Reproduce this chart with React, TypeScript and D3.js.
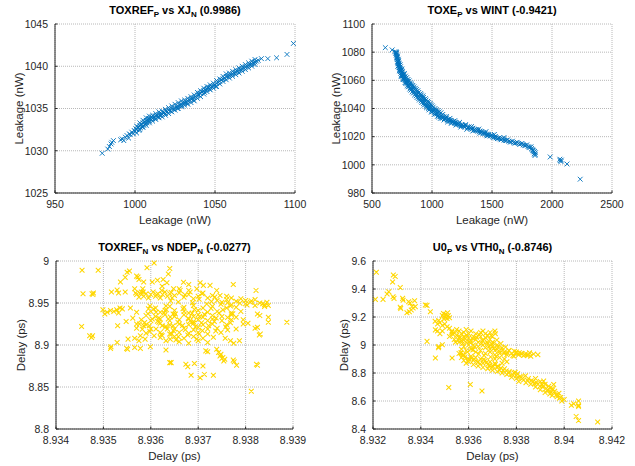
import React from 'react';
import * as d3 from 'd3';

const FONT = '"Liberation Sans", Arial, Helvetica, sans-serif';
const BLUE = '#0072BD';
const YELLOW = '#FFD700';

// ---- Panel 1: TOXREF_P vs XJ_N ----
const p1XTicks = [950, 1000, 1050, 1100];
const p1YTicks = [1025, 1030, 1035, 1040, 1045];
const p1Data: [number, number][] = [
  [979.5, 1029.7], [983, 1030.2], [984, 1030.5], [985, 1030.8], [985.5, 1031.0], [986.5, 1031.2],
  [991, 1031.3], [992, 1031.4], [993, 1031.2], [994, 1031.6], [995, 1031.8], [996, 1031.5], [996.5, 1032.0],
  [997, 1031.9], [998, 1032.2], [999, 1032.0], [999.5, 1032.4],
  [1000, 1032.3], [1000.5, 1032.6], [1001, 1032.5], [1002, 1032.8], [1002.5, 1032.4], [1003, 1033.0],
  [1003.5, 1032.7], [1004, 1033.1], [1004.5, 1032.8], [1005, 1033.3], [1005.5, 1033.0], [1006, 1033.4],
  [1006.5, 1033.2], [1007, 1033.6], [1007.5, 1033.3], [1008, 1033.6], [1008.5, 1033.8], [1009, 1033.5],
  [1009.5, 1033.8], [1010, 1033.7], [1010.5, 1034.0], [1011, 1033.8], [1012, 1034.0], [1012.5, 1033.8],
  [1013, 1034.1], [1014, 1034.2], [1014.5, 1034.0], [1015, 1034.3], [1016, 1034.2], [1016.5, 1034.4],
  [1017, 1034.3], [1018, 1034.5], [1019, 1034.4], [1019.5, 1034.7], [1020, 1034.6], [1021, 1034.8],
  [1022, 1034.7], [1023, 1035.0], [1024, 1034.9], [1025, 1035.1], [1026, 1035.2], [1026.5, 1035.0],
  [1027, 1035.3], [1028, 1035.4], [1029, 1035.5], [1029.5, 1035.3], [1030, 1035.6], [1031, 1035.7],
  [1032, 1035.8], [1032.5, 1035.6], [1033, 1035.9], [1034, 1036.0], [1035, 1036.1], [1036, 1036.2],
  [1036.5, 1036.0], [1037, 1036.3], [1038, 1036.4], [1039, 1036.6], [1040, 1036.6], [1040.5, 1036.8],
  [1041, 1036.8], [1042, 1037.0], [1043, 1037.1], [1043.5, 1036.9], [1044, 1037.2], [1045, 1037.3],
  [1046, 1037.5], [1046.5, 1037.3], [1047, 1037.5], [1048, 1037.6], [1049, 1037.7], [1050, 1037.8],
  [1050.5, 1037.6], [1051, 1038.0], [1052, 1038.1], [1053, 1038.2], [1054, 1038.4], [1055, 1038.5],
  [1056, 1038.6], [1057, 1038.8], [1058, 1038.8], [1059, 1038.9], [1060, 1039.0], [1061, 1039.1],
  [1062, 1039.2], [1063, 1039.3], [1064, 1039.4], [1065, 1039.5], [1066, 1039.6], [1067, 1039.7],
  [1068, 1039.8], [1069, 1039.9], [1070, 1040.0], [1071, 1040.1], [1072, 1040.2], [1073, 1040.3],
  [1074, 1040.4], [1075, 1040.5], [1076, 1040.6], [1077, 1040.7],
  [1001, 1032.9], [1003, 1033.3], [1005, 1033.6], [1007, 1033.9], [1009, 1034.1], [1011, 1034.2], [1013, 1034.4],
  [1015, 1034.6], [1017, 1034.7], [1019, 1034.9], [1021, 1035.1], [1023, 1035.3], [1025, 1035.5], [1027, 1035.7],
  [1029, 1035.9], [1031, 1036.0], [1033, 1036.2], [1035, 1036.4], [1037, 1036.6], [1039, 1036.9], [1041, 1037.1],
  [1043, 1037.4], [1045, 1037.6], [1047, 1037.8], [1049, 1038.0], [1051, 1038.3], [1053, 1038.5], [1055, 1038.8],
  [1057, 1039.1], [1059, 1039.2], [1061, 1039.4], [1063, 1039.6], [1065, 1039.8], [1067, 1040.0], [1069, 1040.2],
  [1071, 1040.4], [1073, 1040.6], [1075, 1040.8],
  [1001, 1032.1], [1003, 1032.5], [1005, 1032.8], [1007, 1033.0], [1009, 1033.3], [1011, 1033.5], [1013, 1033.7],
  [1015, 1033.9], [1017, 1034.0], [1019, 1034.2], [1021, 1034.4], [1023, 1034.6], [1025, 1034.8], [1027, 1035.0],
  [1029, 1035.2], [1031, 1035.4], [1033, 1035.5], [1035, 1035.7], [1037, 1035.9], [1039, 1036.2], [1041, 1036.4],
  [1043, 1036.7], [1045, 1037.0], [1047, 1037.2], [1049, 1037.4], [1051, 1037.6], [1053, 1037.9], [1055, 1038.2],
  [1057, 1038.4], [1059, 1038.6], [1061, 1038.8], [1063, 1039.0], [1065, 1039.2], [1067, 1039.4], [1069, 1039.6],
  [1071, 1039.8], [1073, 1040.0], [1075, 1040.2],
  [1079, 1040.9], [1083, 1040.9], [1088.5, 1041.0], [1095, 1041.4], [1099, 1042.7],
];

// ---- Panel 2: TOXE_P vs WINT ----
const p2XTicks = [500, 1000, 1500, 2000, 2500];
const p2YTicks = [980, 1000, 1020, 1040, 1060, 1080, 1100];
const p2Data: [number, number][] = [
  [611, 1083.2], [668, 1081.6], [690, 1080.3], [697, 1079.2], [702, 1078.0], [705, 1076.4], [708, 1077.6],
  [710, 1074.8], [712, 1076.2], [714, 1073.2], [716, 1071.8], [718, 1074.0], [720, 1070.4], [722, 1072.4],
  [725, 1069.0], [727, 1070.8], [730, 1067.6], [732, 1069.4], [735, 1066.2], [738, 1068.0], [740, 1065.0],
  [743, 1066.8], [746, 1064.0], [750, 1065.4], [752, 1062.8], [756, 1064.4], [760, 1062.0], [764, 1063.4],
  [768, 1060.6], [772, 1062.2], [776, 1059.8], [780, 1061.2], [784, 1058.8], [788, 1060.2], [792, 1057.8],
  [796, 1059.2], [800, 1056.8], [805, 1058.2], [810, 1055.8], [815, 1057.2], [820, 1054.8], [825, 1056.2],
  [830, 1053.8], [836, 1055.2], [842, 1052.8], [848, 1054.2], [854, 1051.6], [860, 1053.0], [866, 1050.6],
  [872, 1052.0], [878, 1049.6], [884, 1051.0], [890, 1048.4], [896, 1049.8], [902, 1047.2], [908, 1048.6],
  [914, 1046.2], [920, 1047.6], [926, 1045.0], [932, 1046.4], [938, 1044.0], [944, 1045.2], [950, 1042.8],
  [956, 1044.0], [962, 1041.8], [968, 1043.0], [974, 1040.8], [980, 1041.8], [986, 1039.8], [992, 1040.8],
  [998, 1038.8], [1004, 1039.8], [1010, 1038.0], [1016, 1038.8], [1022, 1037.0], [1030, 1038.0], [1038, 1036.0],
  [1046, 1037.0], [1054, 1035.0], [1062, 1036.0], [1070, 1034.2], [1080, 1035.2], [1090, 1033.4], [1100, 1034.2],
  [1110, 1032.6], [1120, 1033.4], [1130, 1031.8], [1140, 1032.4], [1150, 1031.0], [1160, 1031.6], [1170, 1030.2],
  [1180, 1030.8], [1190, 1029.6], [1200, 1030.0], [1210, 1028.8], [1220, 1029.4], [1235, 1028.2], [1250, 1028.6],
  [1265, 1027.4], [1280, 1027.8], [1295, 1026.6], [1310, 1027.0], [1325, 1025.8], [1340, 1026.0], [1355, 1025.0],
  [1370, 1025.0], [1385, 1024.0], [1400, 1024.0], [1415, 1023.0], [1430, 1022.8], [1445, 1022.0], [1460, 1021.8],
  [1475, 1021.0], [1490, 1020.8], [1505, 1020.0], [1520, 1019.8], [1535, 1019.2], [1550, 1018.8], [1565, 1018.4],
  [1580, 1018.2], [1600, 1017.6], [1620, 1017.2], [1640, 1016.8], [1660, 1016.2], [1680, 1015.8], [1700, 1015.6],
  [1720, 1015.2], [1740, 1014.8], [1760, 1014.2], [1780, 1013.6], [1800, 1013.0], [1815, 1012.2], [1830, 1011.6],
  [1840, 1010.4], [1848, 1009.2], [1852, 1007.8], [1858, 1006.6], [1862, 1008.6],
  [715, 1070.0], [728, 1066.8], [742, 1063.2], [758, 1061.0], [775, 1058.4], [795, 1056.0], [815, 1053.8],
  [835, 1051.8], [855, 1049.6], [875, 1047.8], [895, 1046.0], [915, 1044.2], [935, 1042.4], [955, 1040.6],
  [975, 1039.0], [995, 1037.4], [1020, 1035.8], [1045, 1034.4], [1070, 1033.0], [1100, 1031.8], [1130, 1030.4],
  [1160, 1029.4], [1200, 1028.2], [1240, 1026.8], [1290, 1025.2], [1340, 1024.0], [1400, 1022.4], [1460, 1020.6],
  [705, 1079.0], [720, 1075.0], [735, 1071.0], [750, 1068.0], [770, 1064.8], [790, 1062.0], [810, 1059.6],
  [830, 1057.4], [850, 1055.4], [870, 1053.4], [890, 1051.4], [910, 1049.6], [930, 1047.8], [950, 1046.0],
  [970, 1044.2], [990, 1042.6], [1010, 1041.0], [1035, 1039.2], [1060, 1037.6], [1090, 1035.8], [1120, 1034.4],
  [1150, 1033.0], [1190, 1031.4], [1230, 1030.2], [1280, 1028.6], [1330, 1027.2], [1390, 1025.4], [1450, 1023.6],
  [1520, 1021.6], [1600, 1019.4],
  [1105, 1033.0], [1125, 1032.0], [1145, 1031.6], [1165, 1030.6], [1185, 1030.0], [1205, 1029.2], [1225, 1028.8],
  [1245, 1027.8], [1260, 1027.8], [1275, 1026.8], [1300, 1026.2], [1320, 1026.4], [1335, 1025.4], [1350, 1024.6],
  [1365, 1024.4], [1380, 1024.6], [1395, 1023.4], [1410, 1023.6], [1425, 1022.2], [1440, 1022.6], [1455, 1021.2],
  [1470, 1021.6], [1485, 1020.4], [1500, 1021.0], [1515, 1019.4], [1530, 1020.0], [1545, 1018.6], [1560, 1019.2],
  [1575, 1017.8], [1590, 1018.6], [1610, 1017.2], [1630, 1017.8], [1650, 1016.4], [1670, 1016.8], [1690, 1015.4],
  [1710, 1016.0], [1730, 1014.6], [1750, 1015.2], [1770, 1013.8], [1790, 1014.2], [1810, 1012.6], [1825, 1012.8],
  [1835, 1011.0], [1845, 1010.0], [1855, 1009.4], [1860, 1007.4],
  [700, 1080.2], [706, 1079.8], [709, 1075.6], [713, 1077.2], [717, 1073.0], [721, 1073.6], [724, 1071.6],
  [729, 1069.2], [734, 1068.4], [737, 1069.6], [741, 1067.0], [745, 1066.6], [749, 1063.0], [754, 1066.2],
  [762, 1060.6], [766, 1064.2], [778, 1063.0], [782, 1057.8], [800, 1060.6], [804, 1055.4], [820, 1058.2],
  [824, 1053.0], [840, 1056.4], [846, 1051.0], [862, 1054.4], [868, 1049.0], [882, 1052.6], [888, 1047.2],
  [905, 1050.6], [910, 1045.4], [925, 1049.0], [930, 1043.6], [945, 1047.0], [952, 1041.8], [965, 1045.2],
  [972, 1040.0], [985, 1043.6], [1000, 1042.0], [1000, 1037.8], [1025, 1040.0], [1030, 1036.4], [1050, 1038.6],
  [1055, 1034.0], [1075, 1037.0], [1085, 1033.0],
  [1985, 1005.6], [2065, 1004.0], [2068, 1003.0], [2075, 1002.3], [2078, 1003.4], [2125, 1000.6], [2235, 989.8],
];

// ---- Panel 3: TOXREF_N vs NDEP_N ----
const p3XTicks = [8.934, 8.935, 8.936, 8.937, 8.938, 8.939];
const p3XLabels = ['8.934', '8.935', '8.936', '8.937', '8.938', '8.939'];
const p3YTicks = [8.8, 8.85, 8.9, 8.95, 9];
const p3YLabels = ['8.8', '8.85', '8.9', '8.95', '9'];
const p3Data: [number, number][] = [
  [8.93455, 8.989], [8.93489, 8.989], [8.93457, 8.961], [8.93476, 8.961], [8.93479, 8.962], [8.93478, 8.96],
  [8.93454, 8.922], [8.93471, 8.911], [8.93475, 8.909], [8.93477, 8.911], [8.93499, 8.942],
  [8.93515, 8.896], [8.93516, 8.898], [8.93529, 8.903], [8.93549, 8.896], [8.93551, 8.895],
  [8.93508, 8.939], [8.93515, 8.941], [8.93522, 8.940], [8.93528, 8.942], [8.93535, 8.944], [8.93532, 8.938],
  [8.9354, 8.943], [8.93503, 8.937], [8.9353, 8.923], [8.93548, 8.928], [8.93557, 8.944], [8.93562, 8.932],
  [8.9357, 8.939], [8.93552, 8.907], [8.93566, 8.908], [8.93578, 8.911], [8.93588, 8.907], [8.93578, 8.896],
  [8.93566, 8.897], [8.93599, 8.898], [8.93575, 8.905],
  [8.93517, 8.963], [8.93529, 8.9655], [8.93532, 8.962], [8.93536, 8.975], [8.93546, 8.9805], [8.9355, 8.9865],
  [8.93555, 8.988], [8.9357, 8.982], [8.93573, 8.981], [8.93575, 8.978], [8.93585, 8.975], [8.93546, 8.963],
  [8.93566, 8.967], [8.93568, 8.962], [8.93584, 8.963], [8.93583, 8.967], [8.93592, 8.992], [8.93607, 8.9976],
  [8.93603, 8.975], [8.93614, 8.977], [8.93626, 8.978], [8.93634, 8.974], [8.93624, 8.97], [8.93637, 8.9845],
  [8.9364, 8.991],
  [8.93595, 8.943], [8.93611, 8.939], [8.93603, 8.931], [8.93617, 8.927], [8.93624, 8.923], [8.93635, 8.919],
  [8.93644, 8.913], [8.93641, 8.907], [8.93647, 8.923], [8.93637, 8.931], [8.9363, 8.941], [8.93647, 8.937],
  [8.93611, 8.919], [8.93597, 8.923], [8.93585, 8.923], [8.93576, 8.925], [8.93607, 8.911], [8.93624, 8.911],
  [8.93632, 8.905], [8.93632, 8.894], [8.9364, 8.879],
  [8.93669, 8.9746], [8.9368, 8.972], [8.93704, 8.974], [8.93711, 8.971], [8.93725, 8.971], [8.93774, 8.972],
  [8.93822, 8.965], [8.93648, 8.967], [8.93662, 8.965], [8.93683, 8.963], [8.93739, 8.965], [8.93746, 8.959],
  [8.93848, 8.947], [8.93825, 8.937], [8.9383, 8.935], [8.93848, 8.933], [8.93887, 8.927], [8.93848, 8.927],
  [8.9382, 8.92], [8.93825, 8.921], [8.93829, 8.912], [8.93831, 8.913], [8.93795, 8.93], [8.93805, 8.926],
  [8.9378, 8.919], [8.93795, 8.925], [8.93823, 8.877], [8.93825, 8.876],
  [8.93739, 8.895], [8.93743, 8.891], [8.93746, 8.887], [8.9375, 8.884], [8.93754, 8.881], [8.93752, 8.885],
  [8.93748, 8.889], [8.93756, 8.883],
  [8.93781, 8.876], [8.93774, 8.882], [8.93776, 8.88], [8.93716, 8.893], [8.9372, 8.892], [8.9371, 8.875],
  [8.93713, 8.865], [8.93674, 8.877], [8.93678, 8.874], [8.93692, 8.878], [8.93685, 8.864], [8.93732, 8.864],
  [8.93643, 8.879], [8.93768, 8.905], [8.93775, 8.902], [8.93787, 8.905], [8.93757, 8.908], [8.93812, 8.845],
  [8.93704, 8.861],
  [8.9357, 8.96], [8.93575, 8.957], [8.9358, 8.963], [8.93585, 8.958], [8.9359, 8.961], [8.93595, 8.956],
  [8.936, 8.96], [8.93605, 8.963], [8.9361, 8.958], [8.93615, 8.961], [8.9362, 8.956], [8.93625, 8.96],
  [8.9363, 8.963], [8.93635, 8.958], [8.9364, 8.961], [8.93645, 8.956], [8.9365, 8.959], [8.9366, 8.962],
  [8.9367, 8.957], [8.9368, 8.96], [8.9369, 8.955], [8.937, 8.958], [8.9371, 8.962], [8.9372, 8.956],
  [8.9373, 8.959], [8.9374, 8.953], [8.9366, 8.967], [8.9368, 8.965],
  [8.9375, 8.951], [8.9376, 8.954], [8.9377, 8.948], [8.9378, 8.952], [8.9379, 8.955], [8.938, 8.949],
  [8.938, 8.953], [8.9381, 8.951], [8.9382, 8.947], [8.9382, 8.954], [8.9383, 8.95], [8.9384, 8.948],
  [8.9384, 8.946], [8.93845, 8.951], [8.9377, 8.956], [8.9378, 8.945], [8.9376, 8.958],
  [8.9361, 8.944], [8.9364, 8.946], [8.9367, 8.945], [8.9369, 8.947], [8.9371, 8.944], [8.9373, 8.946], [8.9376, 8.944],
  [8.936, 8.94], [8.9362, 8.939], [8.9365, 8.941], [8.9367, 8.94], [8.9368, 8.938], [8.937, 8.941], [8.9372, 8.939],
  [8.9374, 8.94], [8.9377, 8.938], [8.9379, 8.94],
  [8.9359, 8.935], [8.9361, 8.934], [8.9363, 8.936], [8.9365, 8.934], [8.9367, 8.936], [8.9369, 8.934],
  [8.937, 8.936], [8.9371, 8.933], [8.9373, 8.935], [8.9375, 8.934], [8.9377, 8.936], [8.9378, 8.933],
  [8.9358, 8.93], [8.936, 8.929], [8.9362, 8.931], [8.9364, 8.929], [8.9366, 8.93], [8.9368, 8.931],
  [8.9369, 8.928], [8.937, 8.93], [8.9372, 8.929], [8.9373, 8.931], [8.9375, 8.929], [8.9377, 8.93],
  [8.9357, 8.925], [8.9359, 8.924], [8.9362, 8.926], [8.9364, 8.924], [8.9366, 8.925], [8.9368, 8.924],
  [8.9369, 8.926], [8.9371, 8.924], [8.9373, 8.925], [8.9376, 8.924],
  [8.9357, 8.92], [8.936, 8.919], [8.9363, 8.921], [8.9365, 8.919], [8.9367, 8.92], [8.9369, 8.918],
  [8.937, 8.921], [8.9372, 8.919], [8.9374, 8.92],
  [8.9359, 8.914], [8.9362, 8.915], [8.9364, 8.913], [8.9366, 8.915], [8.9368, 8.914], [8.937, 8.915], [8.9372, 8.913],
  [8.9362, 8.909], [8.9365, 8.91], [8.9367, 8.908], [8.9369, 8.91], [8.9371, 8.908],
  [8.9366, 8.904], [8.9368, 8.902], [8.937, 8.905], [8.9372, 8.903],
  [8.93606, 8.9428], [8.93633, 8.9419], [8.93668, 8.9431], [8.93692, 8.9423], [8.93727, 8.9436], [8.93752, 8.9418],
  [8.93594, 8.9372], [8.93628, 8.9381], [8.93652, 8.9368], [8.93687, 8.9379], [8.93713, 8.9366], [8.93744, 8.9382],
  [8.93773, 8.9371], [8.93617, 8.9322], [8.93641, 8.9333], [8.93679, 8.9318], [8.93703, 8.9339], [8.93738, 8.9321],
  [8.93762, 8.9328], [8.93587, 8.9268], [8.93614, 8.9283], [8.93657, 8.9272], [8.93683, 8.9287], [8.93707, 8.9264],
  [8.93734, 8.9279], [8.93768, 8.9266], [8.93632, 8.9221], [8.93667, 8.9232], [8.93694, 8.9216], [8.93722, 8.9229],
  [8.93758, 8.9214], [8.93648, 8.9168], [8.93673, 8.9182], [8.93709, 8.9171], [8.93737, 8.9166], [8.93678, 8.9118],
  [8.93702, 8.9131], [8.93653, 8.9061], [8.93697, 8.9072],
  [8.93578, 8.9612], [8.93612, 8.9597], [8.93643, 8.9625], [8.93672, 8.9598], [8.93708, 8.9611], [8.93735, 8.9572],
  [8.93623, 8.9648], [8.93697, 8.9668],
  [8.93762, 8.9502], [8.93788, 8.9498], [8.93812, 8.9525], [8.93836, 8.9492], [8.93768, 8.9465], [8.93803, 8.9477],
  [8.93632, 8.9465], [8.93658, 8.9512], [8.93688, 8.9502], [8.93718, 8.9488], [8.93748, 8.9485], [8.93598, 8.9465],
  [8.93642, 8.9525], [8.93702, 8.9545], [8.93728, 8.9518], [8.93582, 8.9188], [8.93598, 8.9161], [8.93622, 8.9121],
  [8.93658, 8.9098], [8.93732, 8.9092], [8.93748, 8.9148], [8.93762, 8.9178],
];

// ---- Panel 4: U0_P vs VTH0_N ----
const p4XTicks = [8.932, 8.934, 8.936, 8.938, 8.94, 8.942];
const p4XLabels = ['8.932', '8.934', '8.936', '8.938', '8.94', '8.942'];
const p4YTicks = [8.4, 8.6, 8.8, 9, 9.2, 9.4, 9.6];
const p4YLabels = ['8.4', '8.6', '8.8', '9', '9.2', '9.4', '9.6'];
const p4Data: [number, number][] = [
  [8.93214, 9.52], [8.9321, 9.326], [8.93242, 9.326], [8.93259, 9.364], [8.93266, 9.38], [8.93282, 9.45],
  [8.93285, 9.5], [8.93293, 9.49], [8.93284, 9.345], [8.93288, 9.333], [8.93314, 9.41], [8.93314, 9.27],
  [8.93316, 9.26], [8.93324, 9.333], [8.93326, 9.32], [8.93349, 9.309], [8.93355, 9.3], [8.93363, 9.274],
  [8.93368, 9.265], [8.93377, 9.274], [8.93374, 9.316], [8.93352, 9.238], [8.9336, 9.25], [8.93342, 9.23],
  [8.93419, 9.286], [8.93426, 9.283], [8.93426, 9.026], [8.9344, 9.238], [8.93461, 9.108], [8.93461, 8.907],
  [8.93475, 8.99], [8.9349, 9.002], [8.93474, 8.98], [8.93531, 8.907], [8.93517, 8.697], [8.93607, 8.718],
  [8.93656, 8.671],
  [8.9349, 9.21], [8.93495, 9.225], [8.935, 9.2], [8.93505, 9.22], [8.9351, 9.19], [8.93515, 9.21],
  [8.9352, 9.195], [8.93498, 9.185], [8.93512, 9.23],
  [8.9346, 9.17], [8.9347, 9.15], [8.93475, 9.175], [8.9348, 9.16], [8.9349, 9.14], [8.935, 9.15],
  [8.9351, 9.13], [8.9352, 9.12], [8.9347, 9.1], [8.9348, 9.08], [8.9349, 9.1],
  [8.9352, 9.06], [8.9353, 9.09], [8.9354, 9.04], [8.9355, 9.07], [8.9356, 9.05], [8.9357, 9.08],
  [8.9357, 9.03], [8.9358, 9.06], [8.9359, 9.02], [8.936, 9.05], [8.936, 9.0], [8.9361, 9.03],
  [8.9362, 9.06], [8.9362, 9.0], [8.9363, 9.04], [8.9364, 8.99], [8.9364, 9.02], [8.9365, 9.06],
  [8.9366, 9.0], [8.9366, 9.03], [8.9367, 8.98], [8.9367, 9.08], [8.9368, 9.01], [8.9369, 8.97],
  [8.9369, 9.04], [8.937, 8.99], [8.937, 9.02], [8.9371, 8.96], [8.9372, 9.0], [8.9372, 8.97],
  [8.9373, 8.94], [8.9374, 8.98], [8.9375, 8.95], [8.9376, 8.93], [8.9377, 8.96], [8.9378, 8.94],
  [8.9379, 8.92], [8.938, 8.95], [8.9381, 8.93], [8.9382, 8.94], [8.9383, 8.925], [8.9384, 8.94],
  [8.9385, 8.93], [8.9386, 8.92], [8.9389, 8.93], [8.93712, 9.08], [8.9371, 9.1],
  [8.9356, 8.94], [8.9357, 8.91], [8.9358, 8.89], [8.9358, 8.93], [8.9359, 8.87], [8.936, 8.9],
  [8.936, 8.88], [8.9361, 8.92], [8.9362, 8.86], [8.9362, 8.89], [8.9363, 8.91], [8.9364, 8.85],
  [8.9364, 8.88], [8.9365, 8.9], [8.9366, 8.84], [8.9366, 8.87], [8.9367, 8.89], [8.9368, 8.83],
  [8.9368, 8.86], [8.9369, 8.88], [8.937, 8.82], [8.937, 8.85], [8.9371, 8.87], [8.9372, 8.81],
  [8.9372, 8.84], [8.9373, 8.82], [8.9374, 8.8], [8.9375, 8.83], [8.9376, 8.79], [8.9377, 8.81],
  [8.9378, 8.77], [8.9379, 8.8], [8.938, 8.76], [8.938, 8.78], [8.9381, 8.74], [8.9382, 8.77],
  [8.9383, 8.75], [8.9384, 8.73], [8.9385, 8.76], [8.9386, 8.72], [8.9387, 8.74], [8.9388, 8.7],
  [8.9388, 8.76], [8.9389, 8.72], [8.939, 8.68], [8.939, 8.74], [8.9391, 8.7], [8.9392, 8.66],
  [8.9392, 8.72], [8.9393, 8.68], [8.9394, 8.65], [8.9395, 8.69], [8.9395, 8.64], [8.9396, 8.67],
  [8.9397, 8.63], [8.9398, 8.62], [8.9399, 8.6], [8.94, 8.61],
  [8.9403, 8.57], [8.9404, 8.58], [8.9405, 8.49], [8.9406, 8.6], [8.9406, 8.57], [8.9406, 8.56],
  [8.9406, 8.46], [8.9414, 8.45], [8.93914, 8.742], [8.93935, 8.706], [8.93956, 8.718],
  [8.9353, 9.1], [8.9355, 9.11], [8.9356, 9.1], [8.9358, 9.09], [8.9359, 9.11], [8.936, 9.08],
  [8.9361, 9.1], [8.9363, 9.08], [8.9365, 9.09], [8.9366, 9.1], [8.9368, 9.07], [8.9369, 9.09],
  [8.937, 9.06], [8.9356, 9.02], [8.9358, 8.99], [8.9357, 8.97], [8.9359, 8.96], [8.9361, 8.97],
  [8.9363, 8.95], [8.9365, 8.96], [8.9367, 8.94], [8.9369, 8.95], [8.9371, 8.93], [8.9373, 8.91],
  [8.9375, 8.9], [8.9371, 8.9], [8.9374, 8.87], [8.9376, 8.88],
  [8.93535, 9.075], [8.93565, 9.055], [8.93592, 9.072], [8.93618, 9.045], [8.93645, 9.072], [8.93672, 9.05],
  [8.93695, 9.065], [8.93718, 9.035], [8.93735, 9.01], [8.93755, 8.985], [8.93768, 8.96], [8.93792, 8.955],
  [8.93812, 8.945], [8.93835, 8.93], [8.93855, 8.945], [8.93872, 8.935],
  [8.93545, 9.02], [8.93575, 9.01], [8.93602, 9.025], [8.93625, 8.985], [8.93655, 9.01], [8.93685, 8.99],
  [8.93705, 8.975], [8.93728, 8.955], [8.93748, 8.94], [8.93785, 8.925],
  [8.93568, 8.945], [8.93585, 8.915], [8.93612, 8.905], [8.93638, 8.875], [8.93662, 8.895], [8.93688, 8.855],
  [8.93712, 8.86], [8.93735, 8.835], [8.93758, 8.815], [8.93782, 8.79], [8.93805, 8.795], [8.93825, 8.76],
  [8.93848, 8.745], [8.93875, 8.725], [8.93898, 8.705], [8.93925, 8.69], [8.93945, 8.66], [8.93968, 8.645],
  [8.93985, 8.625],
  [8.93575, 8.925], [8.93598, 8.885], [8.93622, 8.9], [8.93648, 8.865], [8.93675, 8.875], [8.93698, 8.84],
  [8.93722, 8.85], [8.93745, 8.82], [8.93768, 8.8], [8.93795, 8.805], [8.93815, 8.775], [8.93838, 8.78],
  [8.93862, 8.745], [8.93885, 8.73], [8.93908, 8.715], [8.93932, 8.675], [8.93952, 8.68], [8.93978, 8.655],
  [8.93542, 9.085], [8.93558, 9.035], [8.93585, 9.045], [8.93608, 9.015], [8.93632, 9.055], [8.93658, 9.035],
  [8.93678, 9.02], [8.93698, 9.005], [8.93722, 8.985], [8.93742, 8.965], [8.93762, 8.945], [8.93798, 8.94],
  [8.93822, 8.935], [8.93845, 8.925], [8.93595, 8.95], [8.93618, 8.965], [8.93642, 8.935], [8.93665, 8.925],
  [8.93692, 8.915], [8.93715, 8.92],
];

type TitlePart = { t: string; sub?: boolean };

type PanelSpec = {
  left: number; right: number; top: number; bottom: number;
  xDomain: [number, number]; yDomain: [number, number];
  xTicks: number[]; xLabels: string[]; yTicks: number[]; yLabels: string[];
  title: TitlePart[]; xLabel: string; yLabel: string; yLabelX: number;
  color: string; data: [number, number][];
};

const panels: PanelSpec[] = [
  {
    left: 55, right: 295, top: 24, bottom: 193,
    xDomain: [950, 1100], yDomain: [1025, 1045],
    xTicks: p1XTicks, xLabels: p1XTicks.map(String), yTicks: p1YTicks, yLabels: p1YTicks.map(String),
    title: [{ t: 'TOXREF' }, { t: 'P', sub: true }, { t: ' vs XJ' }, { t: 'N', sub: true }, { t: ' (0.9986)' }],
    xLabel: 'Leakage (nW)', yLabel: 'Leakage (nW)', yLabelX: 23, color: BLUE, data: p1Data,
  },
  {
    left: 372, right: 612, top: 24, bottom: 193,
    xDomain: [500, 2500], yDomain: [980, 1100],
    xTicks: p2XTicks, xLabels: p2XTicks.map(String), yTicks: p2YTicks, yLabels: p2YTicks.map(String),
    title: [{ t: 'TOXE' }, { t: 'P', sub: true }, { t: ' vs WINT (-0.9421)' }],
    xLabel: 'Leakage (nW)', yLabel: 'Leakage (nW)', yLabelX: 340, color: BLUE, data: p2Data,
  },
  {
    left: 56, right: 293, top: 261, bottom: 429,
    xDomain: [8.934, 8.939], yDomain: [8.8, 9],
    xTicks: p3XTicks, xLabels: p3XLabels, yTicks: p3YTicks, yLabels: p3YLabels,
    title: [{ t: 'TOXREF' }, { t: 'N', sub: true }, { t: ' vs NDEP' }, { t: 'N', sub: true }, { t: ' (-0.0277)' }],
    xLabel: 'Delay (ps)', yLabel: 'Delay (ps)', yLabelX: 25, color: YELLOW, data: p3Data,
  },
  {
    left: 373, right: 612, top: 261, bottom: 429,
    xDomain: [8.932, 8.942], yDomain: [8.4, 9.6],
    xTicks: p4XTicks, xLabels: p4XLabels, yTicks: p4YTicks, yLabels: p4YLabels,
    title: [{ t: 'U0' }, { t: 'P', sub: true }, { t: ' vs VTH0' }, { t: 'N', sub: true }, { t: ' (-0.8746)' }],
    xLabel: 'Delay (ps)', yLabel: 'Delay (ps)', yLabelX: 348, color: YELLOW, data: p4Data,
  },
];

function Panel({ p }: { p: PanelSpec }) {
  const x = d3.scaleLinear().domain(p.xDomain).range([p.left, p.right]);
  const y = d3.scaleLinear().domain(p.yDomain).range([p.bottom, p.top]);
  const s = 2.4;
  const path = p.data
    .map(([a, b]) => {
      const px = x(a), py = y(b);
      return `M${px - s},${py - s}L${px + s},${py + s}M${px - s},${py + s}L${px + s},${py - s}`;
    })
    .join('');
  const axisColor = '#262626';
  const cx = (p.left + p.right) / 2;
  const cy = (p.top + p.bottom) / 2;
  return (
    <g>
      {p.xTicks.map((t, i) => (
        <line key={'gx' + i} x1={x(t)} x2={x(t)} y1={p.top} y2={p.bottom}
          stroke="#b8b8b8" strokeWidth={1} strokeDasharray="1,1" />
      ))}
      {p.yTicks.map((t, i) => (
        <line key={'gy' + i} x1={p.left} x2={p.right} y1={y(t)} y2={y(t)}
          stroke="#b8b8b8" strokeWidth={1} strokeDasharray="1,1" />
      ))}
      <path d={path} stroke={p.color} strokeWidth={p.color === YELLOW ? 1.05 : 0.9} fill="none" />
      <line x1={p.left} x2={p.left} y1={p.top} y2={p.bottom} stroke={axisColor} strokeWidth={1} />
      <line x1={p.left} x2={p.right} y1={p.bottom} y2={p.bottom} stroke={axisColor} strokeWidth={1} />
      {p.xTicks.map((t, i) => (
        <g key={'tx' + i}>
          <line x1={x(t)} x2={x(t)} y1={p.bottom} y2={p.bottom - 2.5} stroke={axisColor} />
          <text x={x(t)} y={p.bottom + 14.5} textAnchor="middle" fontSize={10.5} fill={axisColor} fontFamily={FONT}>
            {p.xLabels[i]}
          </text>
        </g>
      ))}
      {p.yTicks.map((t, i) => (
        <g key={'ty' + i}>
          <line x1={p.left} x2={p.left + 2.5} y1={y(t)} y2={y(t)} stroke={axisColor} />
          <text x={p.left - 7} y={y(t) + 3.8} textAnchor="end" fontSize={10.5} fill={axisColor} fontFamily={FONT}>
            {p.yLabels[i]}
          </text>
        </g>
      ))}
      <text x={cx} y={p.bottom + 31} textAnchor="middle" fontSize={11.5} fill={axisColor} fontFamily={FONT}>
        {p.xLabel}
      </text>
      <text transform={`translate(${p.yLabelX},${cy}) rotate(-90)`} textAnchor="middle" fontSize={11.5}
        fill={axisColor} fontFamily={FONT}>
        {p.yLabel}
      </text>
      <text x={cx} y={p.top - 10} textAnchor="middle" fontSize={11} fontWeight="bold" fill="#000" fontFamily={FONT}>
        {p.title.map((part, i) =>
          part.sub ? (
            <tspan key={i} fontSize={8} dy={3}>{part.t}</tspan>
          ) : (
            <tspan key={i} dy={i > 0 && p.title[i - 1].sub ? -3 : 0}>{part.t}</tspan>
          )
        )}
      </text>
    </g>
  );
}

export default function App() {
  return (
    <div style={{ position: 'absolute', left: 0, top: 0 }}>
      <svg width={635} height={466} viewBox="0 0 635 466" style={{ display: 'block', background: '#fff' }}>
        <rect width={635} height={466} fill="#fff" />
        {panels.map((p, i) => (
          <Panel key={i} p={p} />
        ))}
      </svg>
    </div>
  );
}
